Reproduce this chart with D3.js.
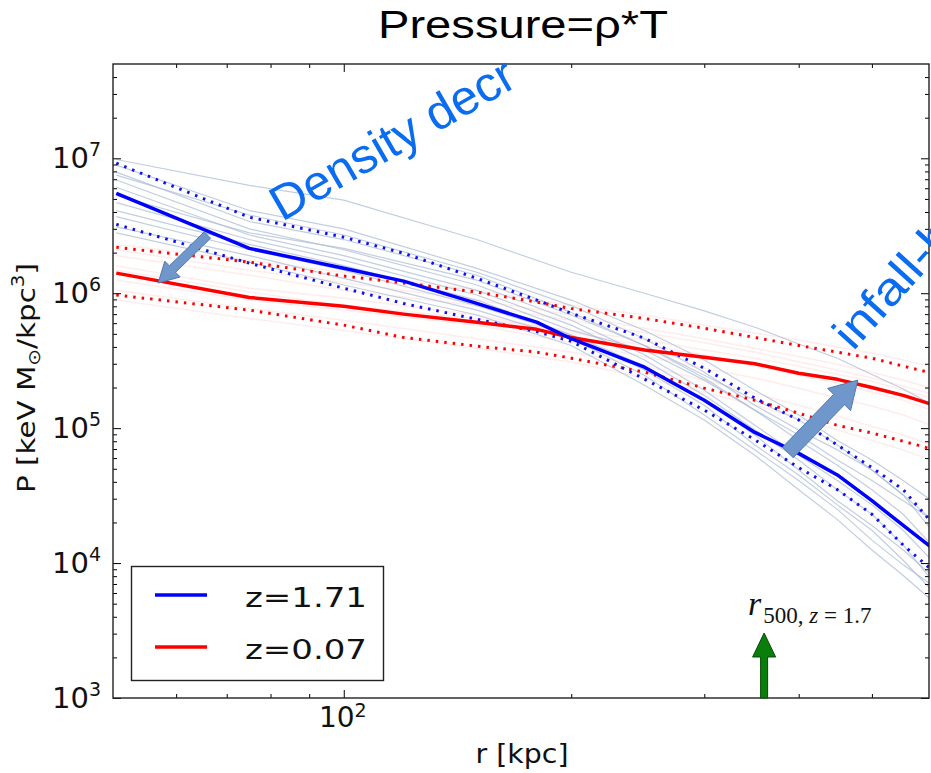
<!DOCTYPE html>
<html><head><meta charset="utf-8">
<script src="https://cdn.jsdelivr.net/npm/d3@7"></script>
<style>body{margin:0;background:#fff} svg{display:block}</style>
</head><body><svg id="c" width="931" height="773"></svg>
<script>
// ---------- data (r in kpc, P in keV Msun / kpc^3) ----------
const radii = [50, 75, 100, 120, 150, 180, 200, 250, 300, 350, 400, 450, 500, 550, 600];
const blueMedian = [5.5e6, 2.15e6, 1.53e6, 1.23e6, 8.4e5, 6.1e5, 4.6e5, 2.83e5, 1.61e5, 9.3e4, 6.5e4, 4.5e4, 2.9e4, 1.9e4, 1.3e4];
const blueUpper  = [9.2e6, 3.66e6, 2.6e6, 1.98e6, 1.29e6, 8.9e5, 7.1e5, 4.64e5, 2.78e5, 1.67e5, 1.15e5, 7.5e4, 5.1e4, 3.5e4, 2.0e4];
const blueLower  = [3.24e6, 1.67e6, 1.09e6, 8.4e5, 6.4e5, 5.2e5, 4.4e5, 2.31e5, 1.36e5, 8.2e4, 5.1e4, 3.5e4, 2.3e4, 1.36e4, 8.9e3];
const redMedian  = [1.41e6, 9.3e5, 8.0e5, 7.0e5, 6.1e5, 5.4e5, 4.7e5, 3.8e5, 3.35e5, 3.0e5, 2.55e5, 2.3e5, 2.0e5, 1.75e5, 1.5e5];
const redUpper   = [2.19e6, 1.7e6, 1.34e6, 1.19e6, 1.02e6, 8.6e5, 7.7e5, 6.5e5, 5.5e5, 4.7e5, 4.1e5, 3.66e5, 3.3e5, 2.88e5, 2.56e5];
const redLower   = [9.7e5, 7.5e5, 5.8e5, 4.7e5, 4.05e5, 3.66e5, 3.3e5, 2.6e5, 1.98e5, 1.61e5, 1.29e5, 1.05e5, 9.2e4, 8.0e4, 7.0e4];

const clusterRadii = [50, 75, 100, 150, 200, 250, 300, 350, 400, 450, 500, 550, 600];
const blueClusters = [
  [9.8e6, 6.3e6, 4.9e6, 2.5e6, 1.43e6, 1.0e6, 7.4e5, 5.6e5, 4.2e5, 3.3e5, 2.5e5, 1.95e5, 1.5e5],
  [8.9e6, 4.1e6, 3.0e6, 1.53e6, 8.9e5, 5.3e5, 3.2e5, 1.91e5, 1.25e5, 8.1e4, 5.8e4, 4.1e4, 2.9e4],
  [7.9e6, 3.4e6, 2.5e6, 1.36e6, 7.2e5, 4.1e5, 2.35e5, 1.36e5, 8.1e4, 5.3e4, 3.5e4, 2.3e4, 1.36e4],
  [6.9e6, 3.0e6, 2.1e6, 1.15e6, 6.3e5, 3.5e5, 1.91e5, 1.05e5, 6.3e4, 4.1e4, 2.7e4, 1.75e4, 1.05e4],
  [6.1e6, 2.7e6, 1.9e6, 1.05e6, 5.8e5, 3.2e5, 1.75e5, 9.7e4, 5.8e4, 3.5e4, 2.3e4, 1.36e4, 7.5e3],
  [4.7e6, 2.5e6, 1.75e6, 9.7e5, 5.3e5, 3.8e5, 2.27e5, 1.36e5, 8.9e4, 5.8e4, 4.1e4, 2.9e4, 2.1e4],
  [4.1e6, 2.3e6, 1.6e6, 8.9e5, 4.9e5, 2.7e5, 1.48e5, 7.5e4, 4.5e4, 2.7e4, 1.75e4, 1.05e4, 6.3e3],
  [3.7e6, 2.1e6, 1.48e6, 8.1e5, 4.9e5, 2.9e5, 1.61e5, 8.9e4, 4.9e4, 2.9e4, 1.9e4, 1.25e4, 8.1e3],
  [3.1e6, 1.9e6, 1.29e6, 7.5e5, 4.6e5, 2.47e5, 1.25e5, 6.9e4, 4.1e4, 2.5e4, 1.48e4, 9.7e3, 6.9e3],
  [2.8e6, 1.7e6, 1.15e6, 6.9e5, 4.1e5, 2.08e5, 1.15e5, 6.3e4, 3.5e4, 2.1e4, 1.25e4, 8.1e3, 5.3e3],
  [5.3e6, 2.8e6, 2.15e6, 1.25e6, 6.9e5, 4.1e5, 2.47e5, 1.61e5, 1.15e5, 7.5e4, 4.9e4, 3.2e4, 2.1e4],
  [7.5e6, 3.8e6, 2.7e6, 1.43e6, 8.1e5, 4.6e5, 2.6e5, 1.48e5, 9.7e4, 6.9e4, 4.9e4, 3.2e4, 1.75e4]
];
const redClusters = [
  [2.3e6, 1.75e6, 1.43e6, 1.05e6, 8.1e5, 6.9e5, 5.8e5, 5.06e5, 4.5e5, 4.0e5, 3.6e5, 3.2e5, 2.83e5],
  [1.9e6, 1.36e6, 1.05e6, 8.1e5, 6.3e5, 5.1e5, 4.3e5, 3.66e5, 3.1e5, 2.7e5, 2.35e5, 2.05e5, 1.79e5],
  [1.6e6, 1.09e6, 9.2e5, 6.9e5, 5.1e5, 4.1e5, 3.5e5, 2.9e5, 2.47e5, 2.15e5, 1.85e5, 1.61e5, 1.36e5],
  [1.25e6, 8.9e5, 7.5e5, 5.8e5, 4.3e5, 3.4e5, 2.78e5, 2.35e5, 1.98e5, 1.67e5, 1.46e5, 1.25e5, 1.05e5],
  [1.05e6, 7.7e5, 6.3e5, 4.6e5, 3.66e5, 2.9e5, 2.27e5, 1.82e5, 1.48e5, 1.23e5, 1.03e5, 8.9e4, 7.5e4],
  [8.9e5, 6.5e5, 5.3e5, 3.9e5, 3.1e5, 2.35e5, 1.85e5, 1.48e5, 1.19e5, 9.7e4, 8.1e4, 6.9e4, 5.8e4],
  [1.48e6, 1.02e6, 8.1e5, 6.5e5, 5.3e5, 4.5e5, 3.8e5, 3.3e5, 2.88e5, 2.5e5, 2.23e5, 1.91e5, 1.67e5],
  [2.1e6, 1.48e6, 1.2e6, 8.9e5, 6.9e5, 5.5e5, 4.6e5, 3.9e5, 3.4e5, 2.98e5, 2.6e5, 2.27e5, 1.98e5]
];

const seriesLabels = ["z=1.71", "z=0.07"];
const xMajorTicks = [100];
const xMinorTicks = [60, 70, 80, 90, 200, 300, 400, 500];
const yMajorExps = [3, 4, 5, 6, 7];
const titleText = "Pressure=\u03C1*T";
const r500 = 360;               // kpc, r500 at z=1.7
const densityArrow = {from: [66, 2.7e6], to: [56.8, 1.19e6]};
const infallArrow  = {from: [387, 6.6e4], to: [479, 2.27e5]};

// ---------- layout ----------
const W = 931, H = 773;
const L = 113, R = 929, T = 64, B = 698;
const svg = d3.select('#c');
svg.append('rect').attr('width', W).attr('height', H).attr('fill', '#fff');

const x = d3.scaleLog().domain([49.5, 595]).range([L, R]);
const y = d3.scaleLog().domain([1e3, 5e7]).range([B, T]);

svg.append('defs').append('clipPath').attr('id', 'clip')
  .append('rect').attr('x', L).attr('y', T).attr('width', R - L).attr('height', B - T);

const plot = svg.append('g').attr('clip-path', 'url(#clip)');
const line = d3.line().x(d => x(d[0])).y(d => y(d[1]));
function drawSeries(rs, vals, stroke, width, dash, opacity) {
  plot.append('path')
    .attr('d', line(rs.map((r, i) => [r, vals[i]])))
    .attr('fill', 'none').attr('stroke', stroke).attr('stroke-width', width)
    .attr('stroke-dasharray', dash || null).attr('stroke-opacity', opacity == null ? 1 : opacity)
    .attr('stroke-linejoin', 'round');
}

redClusters.forEach(v => drawSeries(clusterRadii, v, '#ffb8b8', 1.6, null, 0.25));
blueClusters.forEach(v => drawSeries(clusterRadii, v, '#a6b9d4', 1.2, null, 0.7));

drawSeries(radii, redUpper, '#ff0000', 3, '2.5,6');
drawSeries(radii, redLower, '#ff0000', 3, '2.5,6');
drawSeries(radii, blueUpper, '#1010ee', 3, '2.5,6');
drawSeries(radii, blueLower, '#1010ee', 3, '2.5,6');
drawSeries(radii, redMedian, '#ff0000', 3.5);
drawSeries(radii, blueMedian, '#0000ff', 3.5);

// ---------- axes (inward ticks on all four sides) ----------
const yMinor = [];
yMajorExps.forEach(e => { for (let k = 2; k <= 9; k++) { const v = k * Math.pow(10, e); if (v < 5e7) yMinor.push(v); } });
const yMajor = yMajorExps.map(e => Math.pow(10, e));

function addAxis(axis, tr) {
  const g = svg.append('g').attr('transform', tr).call(axis);
  g.select('.domain').remove();
  g.selectAll('line').attr('stroke', '#000').attr('stroke-width', 1);
  g.selectAll('text').remove();
}
addAxis(d3.axisBottom(x).tickValues(xMajorTicks).tickSize(-8).tickSizeOuter(0), `translate(0,${B})`);
addAxis(d3.axisBottom(x).tickValues(xMinorTicks).tickSize(-4).tickSizeOuter(0), `translate(0,${B})`);
addAxis(d3.axisTop(x).tickValues(xMajorTicks).tickSize(-8).tickSizeOuter(0), `translate(0,${T})`);
addAxis(d3.axisTop(x).tickValues(xMinorTicks).tickSize(-4).tickSizeOuter(0), `translate(0,${T})`);
addAxis(d3.axisLeft(y).tickValues(yMajor).tickSize(-8).tickSizeOuter(0), `translate(${L},0)`);
addAxis(d3.axisLeft(y).tickValues(yMinor).tickSize(-4).tickSizeOuter(0), `translate(${L},0)`);
addAxis(d3.axisRight(y).tickValues(yMajor).tickSize(-8).tickSizeOuter(0), `translate(${R},0)`);
addAxis(d3.axisRight(y).tickValues(yMinor).tickSize(-4).tickSizeOuter(0), `translate(${R},0)`);

svg.append('rect').attr('x', L).attr('y', T).attr('width', R - L).attr('height', B - T)
  .attr('fill', 'none').attr('stroke', '#222').attr('stroke-width', 1.4);

// tick labels
yMajorExps.forEach(e => {
  const t = svg.append('text').attr('x', 101).attr('y', y(Math.pow(10, e)) + 10)
    .attr('text-anchor', 'end').attr('font-family', 'DejaVu Sans').attr('font-size', 29).attr('fill', '#111');
  t.append('tspan').text('10');
  t.append('tspan').attr('font-size', 19).attr('dy', -12).text(e);
});
xMajorTicks.forEach(v => {
  const t = svg.append('text').attr('x', x(v) - 1).attr('y', B + 29)
    .attr('text-anchor', 'middle').attr('font-family', 'DejaVu Sans').attr('font-size', 28).attr('fill', '#111');
  t.append('tspan').text('10');
  t.append('tspan').attr('font-size', 19).attr('dy', -10).text(Math.round(Math.log10(v)));
});

// axis labels
svg.append('text').attr('x', (L + R) / 2 + 1).attr('y', 763).attr('text-anchor', 'middle')
  .attr('font-family', 'DejaVu Sans').attr('font-size', 26).attr('fill', '#111')
  .attr('textLength', 93).attr('lengthAdjust', 'spacingAndGlyphs').text('r [kpc]');
const yl = svg.append('text').attr('transform', 'translate(35,378) rotate(-90)').attr('text-anchor', 'middle')
  .attr('font-family', 'DejaVu Sans').attr('font-size', 25).attr('fill', '#111')
  .attr('textLength', 230).attr('lengthAdjust', 'spacingAndGlyphs');
yl.append('tspan').text('P [keV M');
yl.append('tspan').attr('font-size', 17).attr('dy', 5).text('\u2299');
yl.append('tspan').attr('dy', -5).text('/kpc');
yl.append('tspan').attr('font-size', 17).attr('dy', -11).text('3');
yl.append('tspan').attr('dy', 11).text(']');

// title
svg.append('text').attr('x', 523).attr('y', 38).attr('text-anchor', 'middle')
  .attr('font-family', 'Liberation Sans, Arial, sans-serif').attr('font-size', 38).attr('fill', '#000')
  .attr('textLength', 290).attr('lengthAdjust', 'spacingAndGlyphs').text(titleText);

// ---------- legend ----------
const lg = svg.append('g');
lg.append('rect').attr('x', 131.5).attr('y', 566.5).attr('width', 252).attr('height', 114)
  .attr('fill', '#fff').attr('stroke', '#222').attr('stroke-width', 1.4);
[['#0000ff', 595, 607], ['#ff0000', 647, 659]].forEach((d, i) => {
  lg.append('line').attr('x1', 155).attr('x2', 207).attr('y1', d[1]).attr('y2', d[1])
    .attr('stroke', d[0]).attr('stroke-width', 3.5);
  lg.append('text').attr('x', 245).attr('y', d[2]).attr('font-family', 'DejaVu Sans').attr('font-size', 27)
    .attr('fill', '#111').attr('textLength', 122).attr('lengthAdjust', 'spacingAndGlyphs').text(seriesLabels[i]);
});

// ---------- annotations ----------
function blockArrow(x0, y0, x1, y1, sw, hw, hl) {
  const dx = x1 - x0, dy = y1 - y0, len = Math.hypot(dx, dy);
  const ux = dx / len, uy = dy / len, nx = -uy, ny = ux;
  const bx = x1 - ux * hl, by = y1 - uy * hl;
  return [[x0 + nx * sw / 2, y0 + ny * sw / 2], [bx + nx * sw / 2, by + ny * sw / 2], [bx + nx * hw / 2, by + ny * hw / 2],
    [x1, y1], [bx - nx * hw / 2, by - ny * hw / 2], [bx - nx * sw / 2, by - ny * sw / 2], [x0 - nx * sw / 2, y0 - ny * sw / 2]];
}
function drawBlock(a, sw, hw, hl) {
  const pts = blockArrow(x(a.from[0]), y(a.from[1]), x(a.to[0]), y(a.to[1]), sw, hw, hl);
  svg.append('polygon').attr('points', pts.map(p => p.join(',')).join(' '))
    .attr('fill', '#6f97cb').attr('stroke', '#5479ad').attr('stroke-width', 1);
}
drawBlock(densityArrow, 9, 22, 20);
drawBlock(infallArrow, 15, 32, 27);

svg.append('text').attr('transform', 'translate(282,222) rotate(-30)')
  .attr('font-family', 'Liberation Sans, Arial, sans-serif').attr('font-size', 49).attr('fill', '#0a6cf0')
  .attr('textLength', 274).attr('lengthAdjust', 'spacingAndGlyphs').text('Density decr');
svg.append('text').attr('transform', 'translate(853,352) rotate(-48) scale(1.15,1)')
  .attr('font-family', 'Liberation Sans, Arial, sans-serif').attr('font-size', 46).attr('fill', '#0a6cf0')
  .text('infall-h');

// r500 marker
const xr = x(r500);
const gp = [[xr - 3.5, B], [xr - 3.5, B - 41], [xr - 11.5, B - 41], [xr, B - 65], [xr + 11.5, B - 41], [xr + 3.5, B - 41], [xr + 3.5, B]];
svg.append('polygon').attr('points', gp.map(p => p.join(',')).join(' '))
  .attr('fill', '#0b7d0b').attr('stroke', '#044a04').attr('stroke-width', 1);
const rt = svg.append('text').attr('x', 748).attr('y', 615).attr('font-family', 'Liberation Serif, DejaVu Serif, serif').attr('fill', '#111');
rt.append('tspan').attr('font-style', 'italic').attr('font-size', 34).text('r');
rt.append('tspan').attr('font-size', 23).attr('dy', 8).attr('dx', 2).text('500, ');
rt.append('tspan').attr('font-size', 23).attr('font-style', 'italic').text('z');
rt.append('tspan').attr('font-size', 23).text(' = 1.7');
</script></body></html>
